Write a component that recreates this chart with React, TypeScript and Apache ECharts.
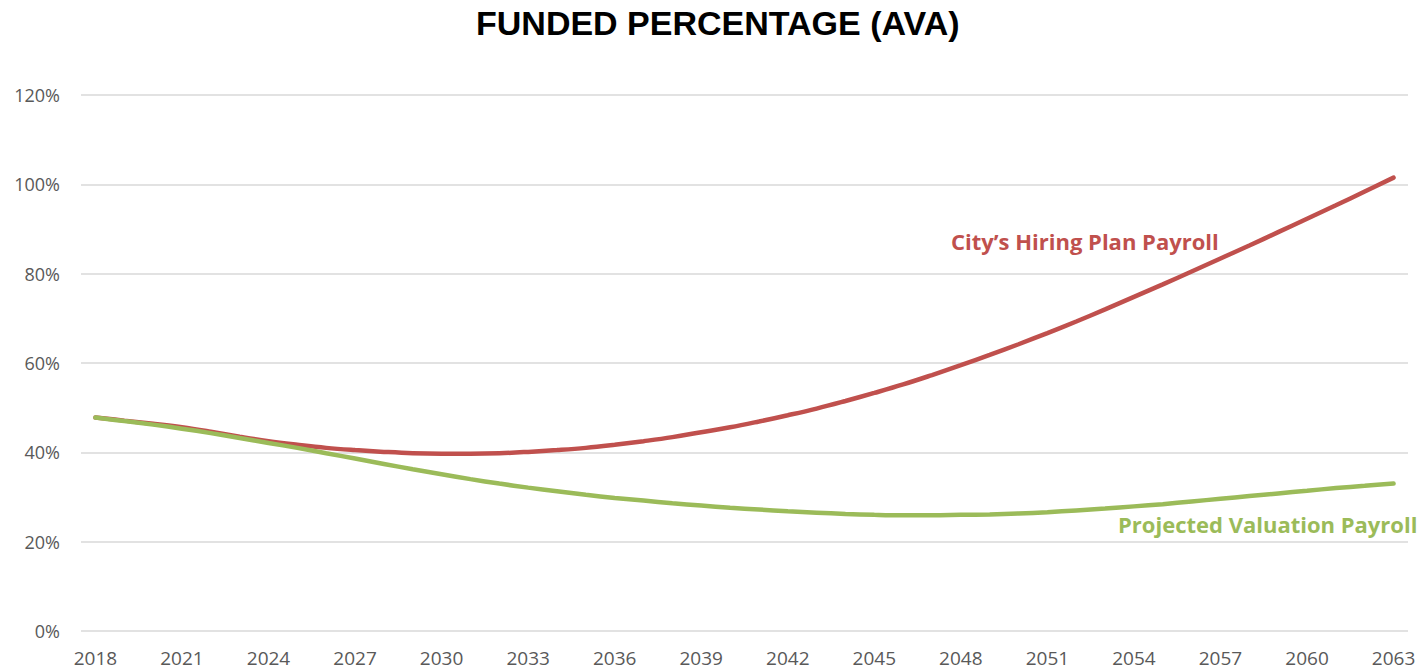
import React, { useEffect, useRef } from "react";
import * as echarts from "echarts";

const years: string[] = [];
for (let y = 2018; y <= 2063; y++) years.push(String(y));

const cityHiringPlan = [
  47.8, 47.1, 46.4, 45.6, 44.6, 43.5, 42.5, 41.7, 41.0, 40.5,
  40.1, 39.8, 39.7, 39.7, 39.8, 40.1, 40.5, 41.0, 41.7, 42.5,
  43.4, 44.5, 45.6, 46.9, 48.3, 49.8, 51.5, 53.3, 55.2, 57.3,
  59.5, 61.8, 64.2, 66.7, 69.3, 72.0, 74.8, 77.6, 80.5, 83.4,
  86.3, 89.3, 92.3, 95.3, 98.4, 101.5,
];

const projectedValuation = [
  47.8, 47.0, 46.2, 45.3, 44.3, 43.2, 42.1, 41.0, 39.8, 38.6,
  37.4, 36.2, 35.1, 34.0, 33.0, 32.1, 31.3, 30.5, 29.8, 29.2,
  28.6, 28.1, 27.6, 27.2, 26.8, 26.5, 26.2, 26.0, 25.9, 25.9,
  26.0, 26.1, 26.3, 26.6, 27.0, 27.4, 27.9, 28.4, 29.0, 29.6,
  30.2, 30.8, 31.4, 32.0, 32.5, 33.0,
];

const TITLE = "FUNDED PERCENTAGE (AVA)";
const RED = "#C0504D";
const GREEN = "#9BBB59";
const LABEL_FONT = "'Open Sans', 'Noto Sans', sans-serif";

export default function App() {
  const ref = useRef<HTMLDivElement>(null);
  useEffect(() => {
    if (!ref.current) return;
    const chart = echarts.init(ref.current, undefined, { renderer: "svg" });
    chart.setOption({
      animation: false,
      backgroundColor: "#ffffff",
      title: {
        text: TITLE,
        left: 471,
        top: 1,
        textStyle: {
          fontFamily: "'Liberation Sans', Arial, sans-serif",
          fontWeight: "bold",
          fontSize: 34,
          color: "#000000",
        },
      },
      grid: { left: 81, right: 16, top: 95, bottom: 41, containLabel: false },
      xAxis: {
        type: "category",
        data: years,
        boundaryGap: true,
        axisLine: { show: false },
        axisTick: { show: false },
        axisLabel: {
          interval: 2,
          color: "#595959",
          fontSize: 19,
          fontFamily: LABEL_FONT,
          margin: 17,
        },
        splitLine: { show: false },
      },
      yAxis: {
        type: "value",
        min: 0,
        max: 120,
        interval: 20,
        axisLine: { show: false },
        axisTick: { show: false },
        axisLabel: {
          formatter: "{value}%",
          color: "#595959",
          fontSize: 18,
          fontFamily: LABEL_FONT,
          margin: 21,
        },
        splitLine: { lineStyle: { color: "#D9D9D9", width: 1.5 } },
      },
      series: [
        {
          name: "City’s Hiring Plan Payroll",
          type: "line",
          data: cityHiringPlan,
          smooth: 0.4,
          showSymbol: false,
          lineStyle: { color: RED, width: 4.5, cap: "round" },
          itemStyle: { color: RED },
          z: 2,
        },
        {
          name: "Projected Valuation Payroll",
          type: "line",
          data: projectedValuation,
          smooth: 0.4,
          showSymbol: false,
          lineStyle: { color: GREEN, width: 4.5, cap: "round" },
          itemStyle: { color: GREEN },
          z: 3,
        },
      ],
      graphic: [
        {
          type: "text",
          left: 951,
          top: 230,
          style: {
            text: "City’s Hiring Plan Payroll",
            fill: RED,
            font: `bold 22px ${LABEL_FONT}`,
          },
        },
        {
          type: "text",
          left: 1118,
          top: 513,
          style: {
            text: "Projected Valuation Payroll",
            fill: GREEN,
            font: `bold 22px ${LABEL_FONT}`,
          },
        },
      ],
    });
    return () => chart.dispose();
  }, []);
  return (
    <div
      ref={ref}
      style={{ position: "absolute", left: 0, top: 0, width: 1424, height: 672 }}
    />
  );
}
